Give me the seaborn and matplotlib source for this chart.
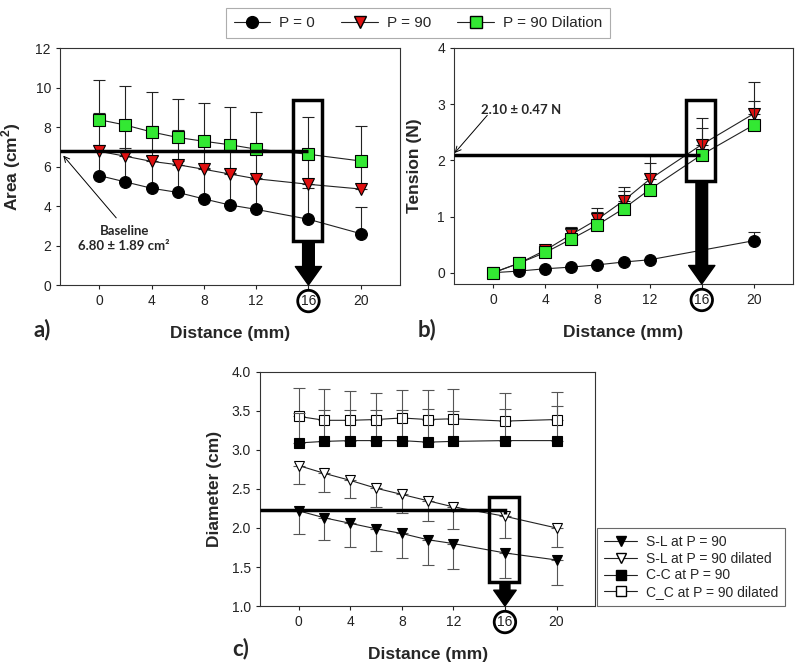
import numpy as np
import pandas as pd
import seaborn as sns
import matplotlib
matplotlib.use("Agg")
import matplotlib.pyplot as plt
from matplotlib.lines import Line2D
from matplotlib.patches import Rectangle

# ---------------- data ----------------
distance = [0, 2, 4, 6, 8, 10, 12, 16, 20]

# panel a: area (cm^2)
area_p0 = [5.54, 5.22, 4.90, 4.69, 4.36, 4.05, 3.83, 3.33, 2.60]
area_p0_top = [7.11, 6.94, 6.52, 6.30, 5.95, 5.65, 5.40, 4.90, 3.97]
area_p90 = [6.77, 6.52, 6.26, 6.09, 5.86, 5.62, 5.38, 5.10, 4.86]
area_p90_top = [8.70, 8.30, 8.05, 7.85, 7.55, 7.30, 7.10, 6.80, 6.55]
area_p90d = [8.37, 8.10, 7.75, 7.47, 7.28, 7.10, 6.88, 6.62, 6.28]
area_p90d_top = [10.38, 10.07, 9.77, 9.44, 9.22, 9.01, 8.78, 8.50, 8.06]

# panel b: tension (N)
distance_b0 = [0, 2, 4, 6, 8, 10, 12, 20]
tension_p0 = [0.0, 0.03, 0.07, 0.10, 0.14, 0.19, 0.23, 0.57]
tension_p0_top = [0.0, 0.03, 0.07, 0.10, 0.14, 0.19, 0.23, 0.73]
tension_p90 = [0.0, 0.17, 0.40, 0.68, 0.95, 1.28, 1.66, 2.28, 2.83]
tension_p90_top = [0.0, 0.17, 0.48, 0.82, 1.15, 1.53, 2.07, 2.76, 3.39]
tension_p90d = [0.0, 0.17, 0.36, 0.60, 0.85, 1.14, 1.48, 2.10, 2.63]
tension_p90d_top = [0.0, 0.17, 0.45, 0.78, 1.08, 1.45, 1.95, 2.57, 3.06]

# panel c: diameter (cm)
sl_p90 = [2.22, 2.13, 2.06, 1.99, 1.93, 1.85, 1.80, 1.68, 1.59]
sl_p90_low = [1.92, 1.84, 1.75, 1.70, 1.62, 1.52, 1.47, 1.36, 1.27]
sl_p90d = [2.80, 2.70, 2.61, 2.51, 2.43, 2.35, 2.27, 2.15, 2.00]
sl_p90d_low = [2.56, 2.46, 2.38, 2.27, 2.19, 2.09, 1.99, 1.87, 1.75]
cc_p90 = [3.09, 3.11, 3.12, 3.12, 3.12, 3.10, 3.11, 3.12, 3.12]
cc_p90_top = [3.48, 3.51, 3.51, 3.51, 3.51, 3.52, 3.50, 3.53, 3.56]
cc_p90d = [3.43, 3.38, 3.38, 3.39, 3.41, 3.39, 3.40, 3.37, 3.39]
cc_p90d_top = [3.80, 3.78, 3.75, 3.73, 3.77, 3.77, 3.78, 3.73, 3.74]

labels_top = ["P = 0", "P = 90", "P = 90 Dilation"]
labels_c = ["S-L at P = 90", "S-L at P = 90 dilated", "C-C at P = 90", "C_C at P = 90 dilated"]
xticks = [0, 4, 8, 12, 16, 20]

RED = "#e01010"
GREEN = "#33e833"

# ---------------- style ----------------
sns.set_style("ticks")
plt.rcParams["font.family"] = ["Liberation Sans", "DejaVu Sans"]
plt.rcParams["mathtext.fontset"] = "custom"
plt.rcParams["mathtext.rm"] = "Liberation Sans"
plt.rcParams["mathtext.bf"] = "Liberation Sans:bold"
plt.rcParams["axes.edgecolor"] = "#333333"
plt.rcParams["axes.linewidth"] = 0.8
plt.rcParams["xtick.major.size"] = 3
plt.rcParams["ytick.major.size"] = 3
plt.rcParams["xtick.major.width"] = 0.8
plt.rcParams["ytick.major.width"] = 0.8

CAL = ["Lato", "DejaVu Sans"]

fig = plt.figure(figsize=(8, 6.65), dpi=100)
ax_a = fig.add_axes([0.075, 0.5714, 0.425, 0.3564])
ax_b = fig.add_axes([0.5675, 0.573, 0.4238, 0.355])
ax_c = fig.add_axes([0.325, 0.0887, 0.419, 0.352])


def series(ax, x, y, top=None, low=None, marker="o", fc="black", ec="black",
           ms=8.5, ecolor="#222222", z=3):
    x = np.asarray(x, float)
    y = np.asarray(y, float)
    if top is not None:
        err = np.asarray(top, float) - y
        m = err > 1e-6
        ax.errorbar(x[m], y[m], yerr=[np.zeros(m.sum()), err[m]], fmt="none",
                    ecolor=ecolor, elinewidth=0.8, capsize=4, capthick=0.8, zorder=z - 1)
    if low is not None:
        err = y - np.asarray(low, float)
        m = err > 1e-6
        ax.errorbar(x[m], y[m], yerr=[err[m], np.zeros(m.sum())], fmt="none",
                    ecolor=ecolor, elinewidth=0.8, capsize=4, capthick=0.8, zorder=z - 1)
    df = pd.DataFrame({"x": x, "y": y})
    sns.lineplot(data=df, x="x", y="y", ax=ax, color="#222222", lw=0.8,
                 marker=marker, markersize=ms, markerfacecolor=fc,
                 markeredgecolor=ec, markeredgewidth=0.8, zorder=z,
                 legend=False, sort=False)


def circle_16(ax):
    for lab in ax.get_xticklabels():
        if lab.get_text() == "16":
            lab.set_bbox(dict(boxstyle="circle,pad=0.22", fc="none", ec="black", lw=2))


def big_arrow(ax, x, y0, y1, scale=14):
    ax.annotate("", xy=(x, y1), xytext=(x, y0),
                arrowprops=dict(arrowstyle="simple,head_width=1.35,head_length=0.95,tail_width=0.6",
                                fc="black", ec="black", mutation_scale=scale, shrinkA=0, shrinkB=0),
                zorder=6, annotation_clip=False)


# ---------------- panel a ----------------
series(ax_a, distance, area_p0, area_p0_top, marker="o", fc="black", z=3)
series(ax_a, distance, area_p90, area_p90_top, marker="v", fc=RED, z=4)
series(ax_a, distance, area_p90d, area_p90d_top, marker="s", fc=GREEN, ms=8, z=5)
ax_a.set_xlim(-3, 23)
ax_a.set_ylim(0, 12)
ax_a.set_yticks(range(0, 13, 2))
ax_a.set_xticks(xticks)
ax_a.set_xticklabels([str(t) for t in xticks])
ax_a.set_xlabel("Distance (mm)", fontsize=12.5, fontweight="bold", labelpad=13)
ax_a.set_ylabel(r"Area (cm$^\mathbf{2}$)", fontsize=12.5, fontweight="bold", labelpad=9)
ax_a.plot([-3, 16], [6.8, 6.8], color="black", lw=2.5, zorder=6, solid_capstyle="butt")
ax_a.add_patch(Rectangle((14.85, 2.23), 2.2, 9.38 - 2.23, fill=False, ec="black", lw=2.5, zorder=6))
big_arrow(ax_a, 16, 2.23, 0.0)
ax_a.text(1.9, 2.35, "Baseline\n6.80 \u00b1 1.89 cm\u00b2", ha="center", va="center",
          fontsize=9.5, fontweight="bold", family=CAL, linespacing=1.35)
ax_a.annotate("", xy=(-2.75, 6.55), xytext=(1.3, 3.4),
              arrowprops=dict(arrowstyle="->", lw=0.7, color="black", shrinkA=0, shrinkB=0))

# ---------------- panel b ----------------
series(ax_b, distance_b0, tension_p0, tension_p0_top, marker="o", fc="black", z=3)
series(ax_b, distance, tension_p90, tension_p90_top, marker="v", fc=RED, z=4)
series(ax_b, distance, tension_p90d, tension_p90d_top, marker="s", fc=GREEN, ms=8, z=5)
ax_b.set_xlim(-3, 23)
ax_b.set_ylim(-0.2, 4)
ax_b.set_yticks(range(0, 5))
ax_b.set_xticks(xticks)
ax_b.set_xticklabels([str(t) for t in xticks])
ax_b.set_xlabel("Distance (mm)", fontsize=12.5, fontweight="bold", labelpad=13)
ax_b.set_ylabel("Tension (N)", fontsize=12.5, fontweight="bold", labelpad=11)
ax_b.plot([-3, 15.9], [2.1, 2.1], color="black", lw=2.5, zorder=6, solid_capstyle="butt")
ax_b.add_patch(Rectangle((14.8, 1.63), 2.25, 3.07 - 1.63, fill=False, ec="black", lw=2.5, zorder=6))
big_arrow(ax_b, 16, 1.63, -0.2)
ax_b.text(-0.95, 2.9, "2.10 \u00b1 0.47 N", ha="left", va="center",
          fontsize=9.5, fontweight="bold", family=CAL)
ax_b.annotate("", xy=(-2.95, 2.13), xytext=(-0.45, 2.8),
              arrowprops=dict(arrowstyle="->", lw=0.7, color="black", shrinkA=0, shrinkB=0))

# ---------------- panel c ----------------
GREY = "#555555"
series(ax_c, distance, cc_p90d, cc_p90d_top, marker="s", fc="white", ms=7, ecolor=GREY, z=3)
series(ax_c, distance, cc_p90, cc_p90_top, marker="s", fc="black", ms=7, ecolor=GREY, z=4)
series(ax_c, distance, sl_p90d, low=sl_p90d_low, marker="v", fc="white", ms=7.5, ecolor=GREY, z=3)
series(ax_c, distance, sl_p90, low=sl_p90_low, marker="v", fc="black", ms=7.5, ecolor=GREY, z=4)
ax_c.set_xlim(-3, 23)
ax_c.set_ylim(1.0, 4.0)
ax_c.set_yticks(np.arange(1.0, 4.01, 0.5))
ax_c.set_yticklabels([f"{v:.1f}" for v in np.arange(1.0, 4.01, 0.5)])
ax_c.set_xticks(xticks)
ax_c.set_xticklabels([str(t) for t in xticks])
ax_c.set_xlabel("Distance (mm)", fontsize=12.5, fontweight="bold", labelpad=13)
ax_c.set_ylabel("Diameter (cm)", fontsize=12.5, fontweight="bold", labelpad=7)
ax_c.plot([-3, 16, 16], [2.235, 2.235, 2.18], color="black", lw=2.5, zorder=6,
          solid_capstyle="butt", solid_joinstyle="miter")
ax_c.add_patch(Rectangle((14.8, 1.31), 2.27, 2.40 - 1.31, fill=False, ec="black", lw=2.5, zorder=6))
big_arrow(ax_c, 16, 1.31, 1.0, scale=12)

for ax in (ax_a, ax_b, ax_c):
    ax.tick_params(labelsize=10, colors="#222222")
    for s in ax.spines.values():
        s.set_visible(True)
    circle_16(ax)

# ---------------- legends ----------------
h_top = [
    Line2D([], [], color="#222222", lw=0.8, marker="o", ms=8.5, mfc="black", mec="black"),
    Line2D([], [], color="#222222", lw=0.8, marker="v", ms=8.5, mfc=RED, mec="black"),
    Line2D([], [], color="#222222", lw=0.8, marker="s", ms=8, mfc=GREEN, mec="black"),
]
leg = fig.legend(h_top, labels_top, loc="center", bbox_to_anchor=(418 / 800, 1 - 23 / 665),
                 ncol=3, frameon=True, fancybox=False, edgecolor="#999999", fontsize=11,
                 handlelength=2.4, columnspacing=1.7, handletextpad=0.6, borderpad=0.5)
leg.get_frame().set_linewidth(0.8)

h_c = [
    Line2D([], [], color="#222222", lw=0.8, marker="v", ms=7, mfc="black", mec="black"),
    Line2D([], [], color="#222222", lw=0.8, marker="v", ms=7, mfc="white", mec="black"),
    Line2D([], [], color="#222222", lw=0.8, marker="s", ms=6.5, mfc="black", mec="black"),
    Line2D([], [], color="#222222", lw=0.8, marker="s", ms=6.5, mfc="white", mec="black"),
]
leg2 = fig.legend(h_c, labels_c, loc="center", bbox_to_anchor=(691 / 800, 1 - 567 / 665),
                  frameon=True, fancybox=False, edgecolor="#444444", fontsize=10,
                  handlelength=2.4, handletextpad=0.6, labelspacing=0.2, borderpad=0.5)
leg2.get_frame().set_linewidth(0.8)

# panel labels
fig.text(33 / 800, 1 - 330 / 665, "a)", fontsize=16, fontweight="bold", family=CAL, va="center")
fig.text(418 / 800, 1 - 330 / 665, "b)", fontsize=16, fontweight="bold", family=CAL, va="center")
fig.text(232 / 800, 1 - 649 / 665, "c)", fontsize=16, fontweight="bold", family=CAL, va="center")

fig.savefig("out.png", dpi=100)
